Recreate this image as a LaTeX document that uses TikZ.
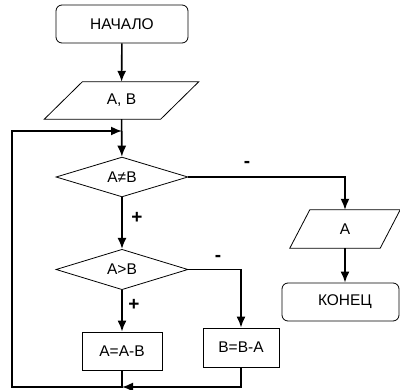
\documentclass[tikz,border=0pt]{standalone}
\usepackage{fontspec}
\setmainfont{Liberation Sans}
\usetikzlibrary{shapes.geometric, arrows.meta, calc, math}

\begin{document}
\begin{tikzpicture}[x=1pt,y=-1pt,
  font=\fontsize{15.5}{17}\selectfont,
  shape line/.style={draw, line width=0.8pt, inner sep=0pt, minimum height=38pt},
  term/.style={shape line, rounded corners=6pt, minimum width=132pt},
  io/.style={inner sep=0pt, minimum height=38pt},
  cond/.style={shape line, diamond, minimum width=132pt},
  proc/.style={shape line, minimum width=80pt},
  frame/.style={line width=0.8pt},
  flow/.style={line width=1.6pt, -{Latex[length=11pt,width=9pt]}},
  sign/.style={font=\fontsize{19}{20}\selectfont\bfseries}]
\tikzmath{
\xm=122;
\xr=241;
\yb=387;
\slantIn=19;
\slantOut=10;
}

\useasboundingbox (0,0) rectangle (400,390);

\node[term] (start) at (\xm,24) {НАЧАЛО};
\node[io, minimum width=116pt, minimum height=37pt] (input) at (121.5,100.5) {A, B};
\node[cond] (neq) at (\xm,177) {A≠B};
\node[cond] (gt) at (\xm,269.5) {A>B};
\node[proc] (subA) at (\xm,351) {A=A-B};
\node[proc, minimum width=76pt, minimum height=39pt] (subB) at (\xr,347.5) {B=B-A};
\node[io, minimum width=90pt] (output) at (345,229) {A};
\node[term, minimum width=117pt] (stop) at (340.5,302) {\hspace{9pt}КОНЕЦ};

% slanted frames of the data blocks
\draw[frame] ($(input.south west)+(-\slantIn,0)$) -- ($(input.north west)+(\slantIn,0)$) -- ($(input.north east)+(\slantIn,0)$) -- ($(input.south east)+(-\slantIn,0)$) -- cycle;
\draw[frame] ($(output.south west)+(-\slantOut,0)$) -- ($(output.north west)+(\slantOut,0)$) -- ($(output.north east)+(\slantOut,0)$) -- ($(output.south east)+(-\slantOut,0)$) -- cycle;

\node[sign] (no1) at (247,164) {-};
\node[sign] (no2) at (218,258) {-};
\node[sign] (yes1) at (137,218) {+};
\node[sign] (yes2) at (134,305) {+};

\coordinate (join) at (\xm,\yb);
\coordinate (loopL) at (12,\yb);
\coordinate (entry) at (\xm,131);

\draw[flow] (start) -- (input);
\draw[flow] (input) -- (neq);
\draw[flow] (neq) -| (output);
\draw[flow] (output.south) -- (output.south |- stop.north);
\draw[flow] (neq) -- (gt);
\draw[flow] (gt) -| (subB);
\draw[flow] (gt) -- (subA);
\draw[flow] (subB) |- (join);
% back to the test
\draw[flow] (subA) |- (loopL) |- (entry);
\end{tikzpicture}
\end{document}
